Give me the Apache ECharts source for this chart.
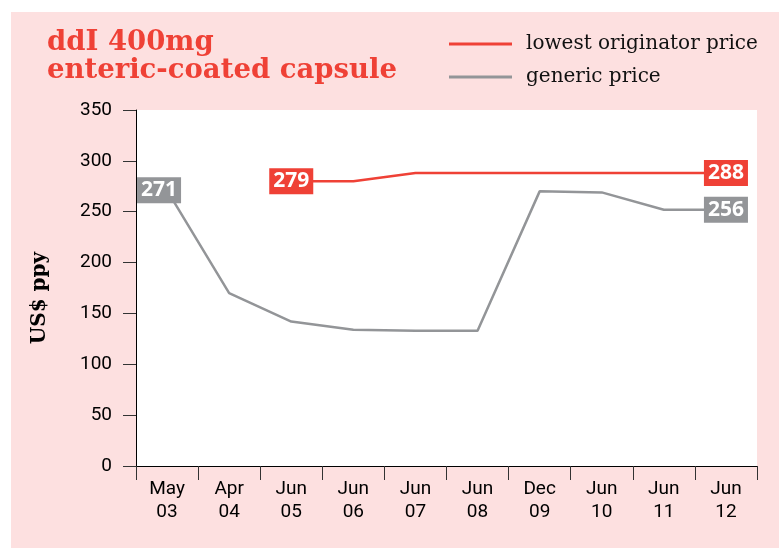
<!DOCTYPE html>
<html>
<head>
<meta charset="utf-8">
<script src="https://cdn.jsdelivr.net/npm/echarts@6/dist/echarts.min.js"></script>
<style>
  html, body { margin: 0; padding: 0; background: #fff; }
  #grafico { position: absolute; left: 11px; top: 12px; width: 768px; height: 536px; }
</style>
</head>
<body>
<div id="grafico"></div>
<script>
const categorias = ['May\n03', 'Apr\n04', 'Jun\n05', 'Jun\n06', 'Jun\n07', 'Jun\n08', 'Dec\n09', 'Jun\n10', 'Jun\n11', 'Jun\n12'];
const precioOriginal = [null, null, 280, 280, 288, 288, 288, 288, 288, 288];
const precioGenerico = [271, 170, 142, 134, 133, 133, 270, 269, 252, 252];
// etiquetas impresas en el gráfico (índice -> texto)
const etiquetasOriginal = { 2: '279', 9: '288' };
const etiquetasGenerico = { 0: '271', 9: '256' };

const ROJO = '#ef4136';
const GRIS = '#939598';
const fuenteEje = "'Liberation Sans Narrow', 'Roboto', sans-serif";

const conEtiquetas = (valores, etiquetas, color, offsets) => valores.map((v, i) => {
  if (etiquetas[i] === undefined) return v;
  return {
    value: v,
    label: {
      show: true,
      position: 'inside',
      formatter: etiquetas[i],
      offset: offsets[i] || [0, 0],
      color: '#fff',
      fontFamily: "'Open Sans', sans-serif",
      fontWeight: 'bold',
      fontSize: 21,
      backgroundColor: color,
      padding: [1, 4, 0, 4],
      lineHeight: 25
    }
  };
});

const miGrafico = echarts.init(document.getElementById('grafico'));

miGrafico.setOption({
  backgroundColor: '#fde0e0',
  animation: false,
  title: {
    text: 'ddI 400mg\nenteric-coated capsule',
    left: 31,
    top: 12,
    textStyle: {
      color: ROJO,
      fontFamily: "'DejaVu Serif', serif",
      fontWeight: 'bold',
      fontSize: 27.5,
      lineHeight: 28
    }
  },
  legend: {
    orient: 'vertical',
    left: 438,
    top: 21,
    padding: 0,
    icon: 'rect',
    itemWidth: 63,
    itemHeight: 3,
    itemGap: 11,
    data: ['lowest originator price', 'generic price'],
    textStyle: {
      color: '#111',
      fontFamily: "'DejaVu Serif', serif",
      fontSize: 20,
      lineHeight: 22,
      padding: [0, 0, 0, 9]
    }
  },
  grid: {
    left: 125,
    top: 98,
    right: 22,
    bottom: 82,
    show: true,
    backgroundColor: '#fff',
    borderWidth: 0
  },
  xAxis: {
    type: 'category',
    data: categorias,
    boundaryGap: true,
    axisLine: { lineStyle: { color: '#000', width: 1 } },
    axisTick: { show: true, length: 14, lineStyle: { color: '#333' } },
    axisLabel: {
      color: '#000',
      fontFamily: fuenteEje,
      fontSize: 19,
      lineHeight: 23,
      margin: 12,
      interval: 0
    }
  },
  yAxis: {
    type: 'value',
    min: 0,
    max: 350,
    interval: 50,
    name: 'US$ ppy',
    nameLocation: 'middle',
    nameGap: 86,
    nameTextStyle: {
      color: '#000',
      fontFamily: "'DejaVu Serif', serif",
      fontWeight: 'bold',
      fontSize: 20,
      padding: [0, 0, 0, -20]
    },
    axisLine: { show: true, lineStyle: { color: '#000', width: 1 } },
    axisTick: { show: true, length: 13, lineStyle: { color: '#333' } },
    axisLabel: {
      color: '#000',
      fontFamily: fuenteEje,
      fontSize: 19,
      margin: 24
    },
    splitLine: { show: false }
  },
  series: [
    {
      name: 'lowest originator price',
      type: 'line',
      data: conEtiquetas(precioOriginal, etiquetasOriginal, ROJO, {}),
      symbol: 'circle',
      symbolSize: 0,
      lineStyle: { color: ROJO, width: 2.5 },
      itemStyle: { color: ROJO },
      z: 3
    },
    {
      name: 'generic price',
      type: 'line',
      data: conEtiquetas(precioGenerico, etiquetasGenerico, GRIS, { 0: [-8, 0] }),
      symbol: 'circle',
      symbolSize: 0,
      lineStyle: { color: GRIS, width: 2.5 },
      itemStyle: { color: GRIS },
      z: 2
    }
  ]
});
</script>
</body>
</html>
